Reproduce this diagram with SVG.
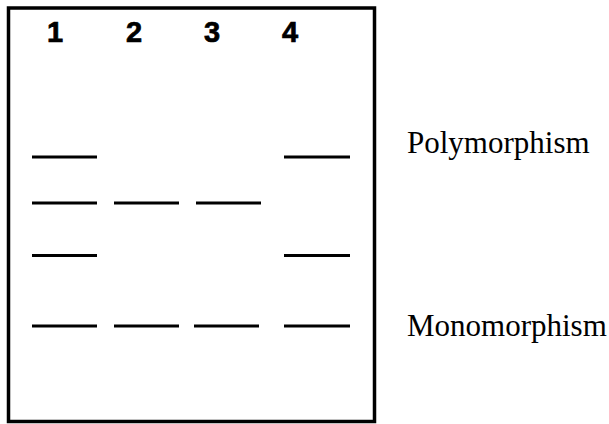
<svg xmlns="http://www.w3.org/2000/svg" width="609" height="424" viewBox="0 0 609 424">
<style>
.frame{fill:none;stroke:#000;stroke-width:3.5}
.band{stroke:#000;stroke-width:3.2;fill:none}
.lane{font-family:"Liberation Sans",Arial,sans-serif;font-weight:bold;font-size:29px;fill:#000;stroke:#000;stroke-width:0.7;text-anchor:middle}
.lbl{font-family:"Liberation Serif","Times New Roman",serif;font-size:31px;fill:#000}
</style>
<rect id="gel" class="frame" x="8.5" y="8" width="366" height="413.5"/>
<g id="lanes">
<text class="lane" x="55" y="42">1</text>
<text class="lane" x="134" y="42">2</text>
<text class="lane" x="212" y="42">3</text>
<text class="lane" x="290" y="42">4</text>
</g>
<g id="bands">
<line class="band" x1="32" y1="157" x2="97" y2="157"/>
<line class="band" x1="284" y1="157" x2="350" y2="157"/>
<line class="band" x1="32" y1="203" x2="97" y2="203"/>
<line class="band" x1="114" y1="203" x2="179" y2="203"/>
<line class="band" x1="196" y1="203" x2="261" y2="203"/>
<line class="band" x1="32" y1="255.5" x2="97" y2="255.5"/>
<line class="band" x1="284" y1="255.5" x2="350" y2="255.5"/>
<line class="band" x1="32" y1="326" x2="97" y2="326"/>
<line class="band" x1="114" y1="326" x2="179" y2="326"/>
<line class="band" x1="194" y1="326" x2="259" y2="326"/>
<line class="band" x1="284" y1="326" x2="350" y2="326"/>
</g>
<g id="labels">
<text class="lbl" x="407" y="153">Polymorphism</text>
<text class="lbl" x="407" y="336">Monomorphism</text>
</g>
</svg>
